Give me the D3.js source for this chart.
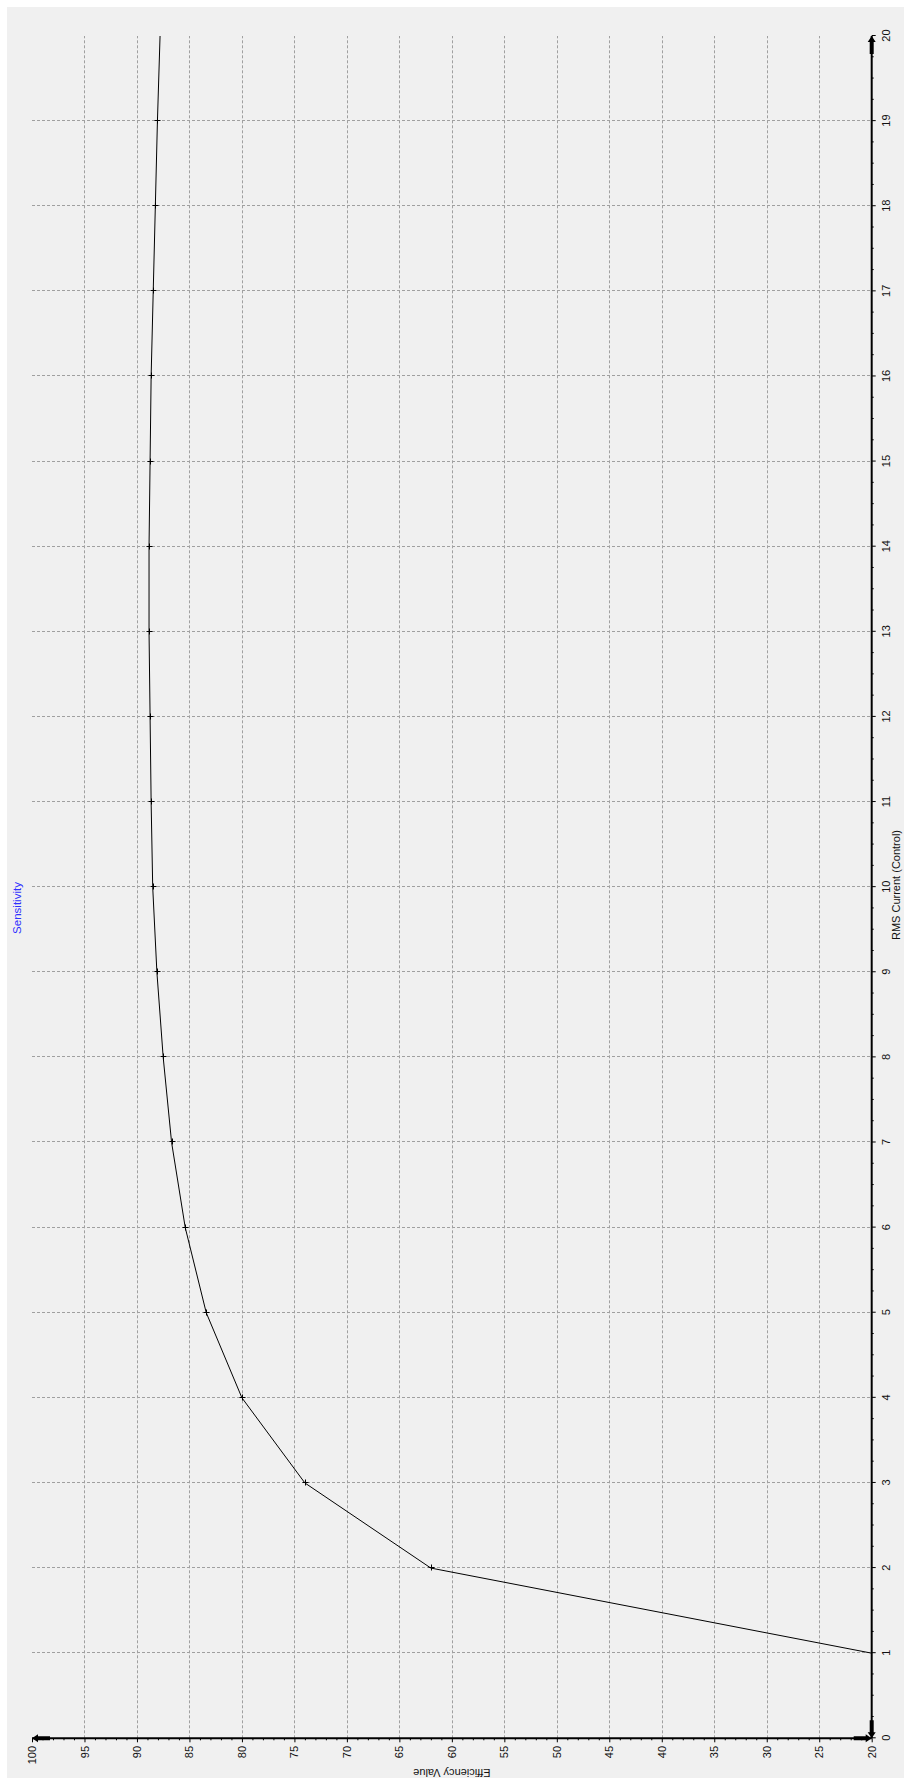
<!DOCTYPE html>
<html>
<head>
<meta charset="utf-8">
<title>Sensitivity</title>
<script src="https://d3js.org/d3.v7.min.js"></script>
<style>
  body { margin: 0; background: #fff; }
  svg { display: block; font-family: "Liberation Sans", Arial, sans-serif; }
</style>
</head>
<body>
<svg id="chart" width="904" height="1779"></svg>
<script>
  // data
  const rmsCurrent = [1, 2, 3, 4, 5, 6, 7, 8, 9, 10, 11, 12, 13, 14, 15, 16, 17, 18, 19, 20];
  const efficiency = [20, 62, 74, 80, 83.4, 85.4, 86.7, 87.5, 88.1, 88.5,
    88.65, 88.75, 88.85, 88.85, 88.75, 88.65, 88.45, 88.25, 88.05, 87.8];
  const xTicks = [0, 1, 2, 3, 4, 5, 6, 7, 8, 9, 10, 11, 12, 13, 14, 15, 16, 17, 18, 19, 20];
  const yTicks = [20, 25, 30, 35, 40, 45, 50, 55, 60, 65, 70, 75, 80, 85, 90, 95, 100];

  const data = rmsCurrent.map((x, i) => ({ x: x, y: efficiency[i] }));

  // the chart is drawn upright in a 1779 x 904 box and turned a quarter left
  const W = 1779, H = 904;
  const svg = d3.select("#chart");
  const root = svg.append("g").attr("transform", `translate(0, ${W}) rotate(-90)`);

  root.append("rect")
    .attr("x", 1).attr("y", 7)
    .attr("width", 1771).attr("height", H - 7)
    .attr("fill", "#f0f0f0");

  const x = d3.scaleLinear().domain([0, 20]).range([40.7, 1743]);
  const y = d3.scaleLinear().domain([20, 100]).range([871.7, 32]);

  // grid
  const grid = root.append("g").attr("stroke", "#a0a0a0").attr("stroke-dasharray", "3,2");
  grid.selectAll(".gx")
    .data(xTicks.filter(d => d > 0 && d < 20))
    .enter().append("line")
    .attr("x1", d => Math.round(x(d)) + 0.5).attr("x2", d => Math.round(x(d)) + 0.5)
    .attr("y1", y(100)).attr("y2", y(20));
  grid.selectAll(".gy")
    .data(yTicks.filter(d => d > 20 && d < 100))
    .enter().append("line")
    .attr("y1", d => Math.round(y(d)) + 0.5).attr("y2", d => Math.round(y(d)) + 0.5)
    .attr("x1", x(0)).attr("x2", x(20));

  // axes
  const minorX = d3.range(0, 80).map(i => i * 0.25).filter(v => v % 1 !== 0);
  const minorY = d3.range(20, 101).filter(v => v % 5 !== 0);

  const xAxis = root.append("g").attr("transform", `translate(0, ${y(20)})`);
  xAxis.call(d3.axisBottom(x).tickValues(xTicks).tickSize(4).tickPadding(6.3).tickFormat(d3.format("d")));
  xAxis.append("g").call(d3.axisBottom(x).tickValues(minorX).tickSize(2).tickFormat(""));

  const yAxis = root.append("g").attr("transform", `translate(${x(0)}, 0)`);
  yAxis.call(d3.axisLeft(y).tickValues(yTicks).tickSize(4).tickPadding(3.7).tickFormat(d3.format("d")));
  yAxis.append("g").call(d3.axisLeft(y).tickValues(minorY).tickSize(2).tickFormat(""));

  root.selectAll(".domain").remove();
  root.selectAll(".tick line").attr("stroke", "#000");
  root.selectAll(".tick text")
    .attr("fill", "#111")
    .style("font-size", "11px")
    .style("font-family", "'Liberation Sans', Arial, sans-serif");

  // curve
  root.append("path")
    .datum(data)
    .attr("fill", "none")
    .attr("stroke", "#000")
    .attr("stroke-width", 1)
    .attr("d", d3.line().x(d => x(d.x)).y(d => y(d.y)));

  root.selectAll(".mark")
    .data(data.filter(d => d.x > 1 && d.x < 20))
    .enter().append("path")
    .attr("fill", "none")
    .attr("stroke", "#000")
    .attr("stroke-width", 1)
    .attr("d", d => {
      const cx = Math.round(x(d.x)) + 0.5, cy = Math.round(y(d.y)) + 0.5;
      return `M${cx - 3},${cy}H${cx + 3}M${cx},${cy - 3}V${cy + 3}`;
    });

  // axis lines with arrows at both ends
  const axisLines = root.append("g");
  axisLines.append("line")
    .attr("x1", x(0)).attr("x2", x(20))
    .attr("y1", y(20)).attr("y2", y(20))
    .attr("stroke", "#000").attr("stroke-width", 2);
  axisLines.append("line")
    .attr("x1", x(0)).attr("x2", x(0))
    .attr("y1", y(20)).attr("y2", y(100))
    .attr("stroke", "#000").attr("stroke-width", 2);

  function arrow(tx, ty, dx, dy) {
    const px = -dy, py = dx;
    const shape = [[0, 0], [6, 4], [6, 2], [18, 2], [18, -2], [6, -2], [6, -4]];
    const pts = shape.map(([t, s]) => [tx - dx * t + px * s, ty - dy * t + py * s]);
    axisLines.append("path")
      .attr("d", "M" + pts.map(p => p.join(",")).join("L") + "Z")
      .attr("fill", "#000");
  }
  arrow(x(20), y(20), 1, 0);
  arrow(x(0), y(20), -1, 0);
  arrow(x(0), y(100), 0, -1);
  arrow(x(0), y(20), 0, 1);

  // texts
  root.append("text")
    .attr("x", 871).attr("y", 21)
    .attr("text-anchor", "middle")
    .attr("fill", "#3030ff")
    .style("font-size", "11.5px")
    .text("Sensitivity");

  root.append("text")
    .attr("x", 894).attr("y", 900)
    .attr("text-anchor", "middle")
    .attr("fill", "#111")
    .style("font-size", "11px")
    .text("RMS Current  (Control)");

  root.append("text")
    .attr("transform", `translate(10, ${(y(20) + y(100)) / 2}) rotate(-90)`)
    .attr("text-anchor", "middle")
    .attr("fill", "#111")
    .style("font-size", "11px")
    .text("Efficiency Value");
</script>
</body>
</html>
